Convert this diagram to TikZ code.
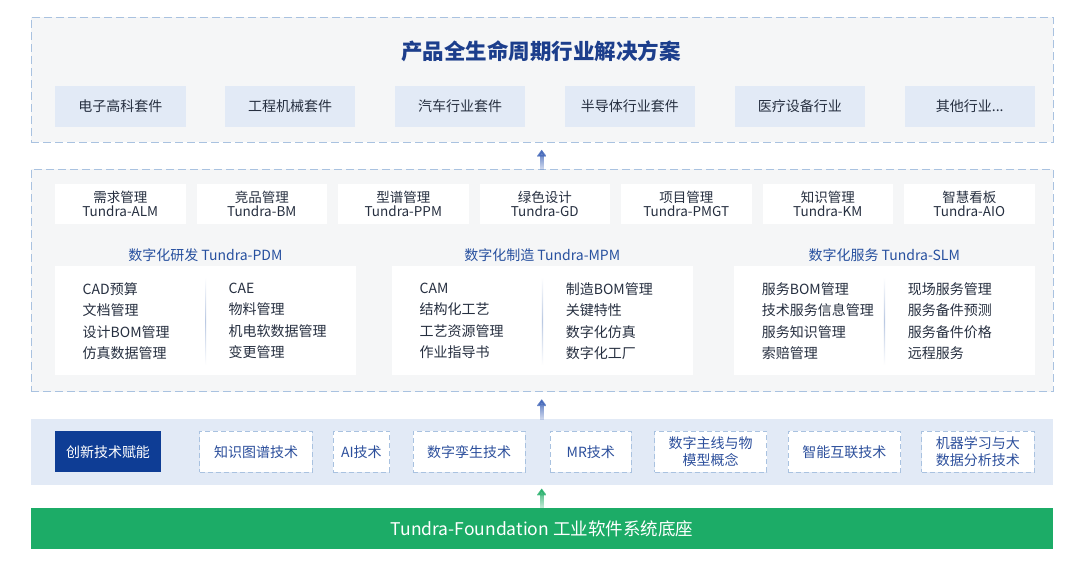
\documentclass[tikz,border=0pt]{standalone}
\usepackage{fontspec}
\setmainfont{Noto Sans CJK SC}
\usetikzlibrary{arrows.meta,fadings}

\definecolor{panelgray}{HTML}{F5F6F7}
\definecolor{dashblue}{HTML}{A9C2E0}
\definecolor{lightblue}{HTML}{E2EAF6}
\definecolor{navy}{HTML}{0E3D95}
\definecolor{titleblue}{HTML}{1C3E8C}
\definecolor{headblue}{HTML}{27509F}
\definecolor{textdark}{HTML}{262F40}
\definecolor{techblue}{HTML}{2C4F9C}
\definecolor{arrowblue}{HTML}{3F64B8}
\definecolor{arrowgreen}{HTML}{22AE68}
\definecolor{foundgreen}{HTML}{1CAC67}
\definecolor{sepblue}{HTML}{B9C8E2}

\newcommand{\etcdots}{...}
\tikzfading[name=arrowfade, top color=transparent!0, bottom color=transparent!85]

\tikzset{
  panel/.style={draw=dashblue, dash pattern=on 8pt off 4pt, line width=0.9pt,
    fill=panelgray, minimum width=1022pt, inner sep=0pt},
  indbox/.style={fill=lightblue, minimum width=130.5pt, minimum height=40.7pt,
    text=textdark, font=\fontsize{14}{14}\selectfont},
  modbox/.style={fill=white, minimum width=130.5pt, minimum height=40.3pt, inner sep=0pt,
    align=center, text=textdark, font=\fontsize{13.5}{14}\selectfont},
  secbox/.style={fill=white, minimum width=300.7pt, minimum height=109pt, inner sep=0pt},
  sechead/.style={text=headblue, font=\fontsize{14}{14}\selectfont},
  itemlist/.style={anchor=west, align=left, inner sep=0pt, text=textdark,
    font=\fontsize{14}{21.4}\selectfont},
  techbox/.style={draw=dashblue, dash pattern=on 5pt off 3pt, line width=0.8pt, fill=white,
    minimum height=41pt, inner sep=0pt, align=center, text=techblue,
    font=\fontsize{14}{17}\selectfont},
  uparrow/.style={-{Triangle[length=7pt,width=10pt]}, line width=4pt, path fading=arrowfade},
}

\begin{document}
\begin{tikzpicture}[x=1pt,y=-1pt]
  \useasboundingbox (0,0) rectangle (1080,569);

  % lifecycle solutions
  \node[panel, minimum height=125pt] (lifecycle) at (542,79.8) {};
  \node[text=titleblue, font=\fontsize{21.5}{21.5}\selectfont\bfseries] (title) at (541,51.7)
    {产品全生命周期行业解决方案};
  \foreach \t [count=\i] in {电子高科套件,工程机械套件,汽车行业套件,半导体行业套件,医疗设备行业,其他行业\etcdots}
    \node[indbox] (ind\i) at ({120.25+(\i-1)*169.9},106.4) {\t};

  % platform modules
  \node[panel, minimum height=222.7pt] (platform) at (542,280.4) {};
  \foreach \a/\b [count=\i] in {需求管理/ALM,竞品管理/BM,型谱管理/PPM,绿色设计/GD,
                                项目管理/PMGT,知识管理/KM,智慧看板/AIO}
    \node[modbox] (mod\i) at ({120.25+(\i-1)*141.5},204.2) {\a\\Tundra-\b};

  \foreach \n/\x/\h in {pdm/55/数字化研发 Tundra-PDM,mpm/391.9/数字化制造 Tundra-MPM,
                        slm/733.9/数字化服务 Tundra-SLM}{
    \node[secbox] (\n) at ({\x+150.35},320.5) {};
    \node[sechead] (\n head) at ({\x+150.35},255) {\h};
    \shade[top color=white, bottom color=white, middle color=sepblue]
      ({\x+150},277.3) rectangle ({\x+151.2},365);
  }
  \node[itemlist] (pdm a) at (82.5,321) {CAD预算\\文档管理\\设计BOM管理\\仿真数据管理};
  \node[itemlist] (pdm b) at (228.5,321) {CAE\\物料管理\\机电软数据管理\\变更管理};
  \node[itemlist] (mpm a) at (419.4,321) {CAM\\结构化工艺\\工艺资源管理\\作业指导书};
  \node[itemlist] (mpm b) at (565.6,321) {制造BOM管理\\关键特性\\数字化仿真\\数字化工厂};
  \node[itemlist] (slm a) at (761.6,321) {服务BOM管理\\技术服务信息管理\\服务知识管理\\索赔管理};
  \node[itemlist] (slm b) at (907.6,321) {现场服务管理\\服务备件预测\\服务备件价格\\远程服务};

  % enabling technologies
  \node[fill=lightblue, minimum width=1022pt, minimum height=66pt, inner sep=0pt] (tech) at (542,452) {};
  \node[fill=navy, text=white, minimum width=106pt, minimum height=41pt, inner sep=0pt,
        font=\fontsize{14}{14}\selectfont] (enable) at (108,451.8) {创新技术赋能};
  \foreach \c/\w/\t [count=\i] in {256/112.6/知识图谱技术,361.4/56.2/AI技术,469/112.2/数字孪生技术,
      590.8/81/MR技术,710.7/112/{数字主线与物\\模型概念},844.3/112.5/智能互联技术,
      977.8/112.6/{机器学习与大\\数据分析技术}}
    \node[techbox, minimum width=\w pt] (tech\i) at (\c,451.8) {\t};

  % foundation
  \node[fill=foundgreen, minimum width=1022pt, minimum height=40.4pt, inner sep=0pt, text=white,
        font=\fontsize{17.5}{18}\selectfont] (foundation) at (542,528.5)
    {Tundra-Foundation 工业软件系统底座};

  % arrows
  \draw[uparrow, arrowblue] ([xshift=-0.3pt,yshift=-1pt]platform.north)
    -- ([xshift=-0.3pt,yshift=-7pt]lifecycle.south);
  \draw[uparrow, arrowblue] ([xshift=-0.3pt,yshift=-1pt]tech.north)
    -- ([xshift=-0.3pt,yshift=-7pt]platform.south);
  \draw[uparrow, arrowgreen] ([xshift=-0.3pt,yshift=-1pt]foundation.north)
    -- ([xshift=-0.3pt,yshift=-3.3pt]tech.south);
\end{tikzpicture}
\end{document}
